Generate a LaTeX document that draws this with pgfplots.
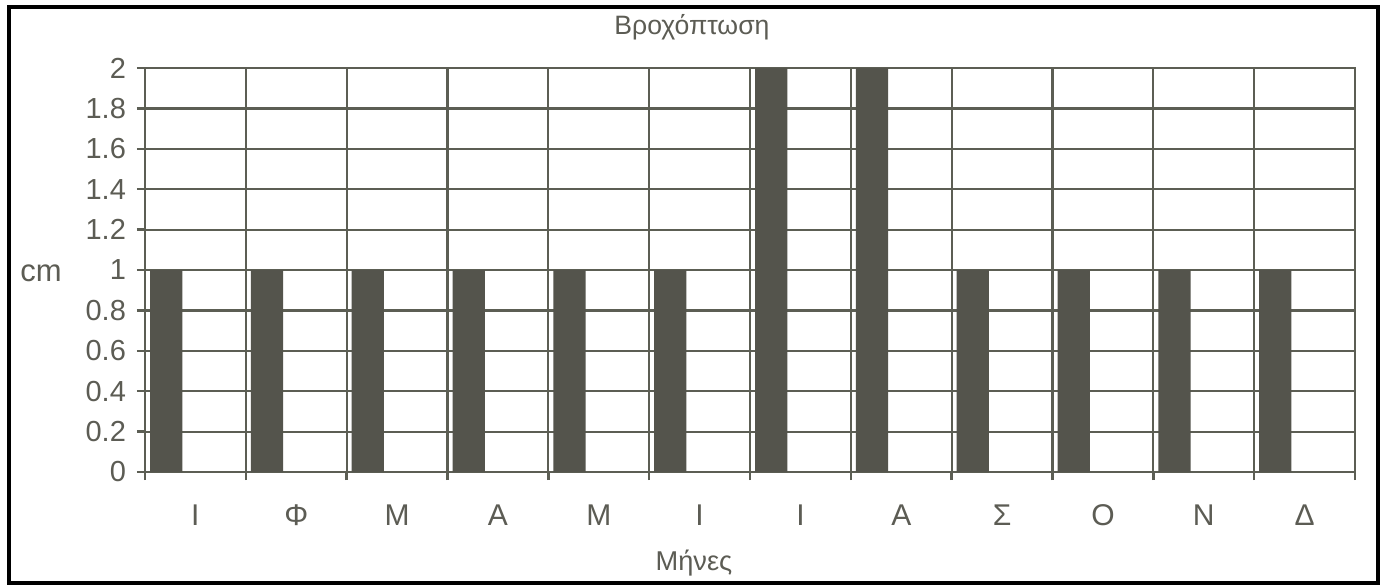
\documentclass[border=0pt]{standalone}
\usepackage{fontspec}
\setmainfont{Liberation Sans}
\usepackage{pgfplots}
\pgfplotsset{compat=1.18}

\definecolor{linegray}{rgb}{0.36,0.37,0.33}
\definecolor{bargray}{rgb}{0.33,0.33,0.30}
\definecolor{txtgray}{rgb}{0.36,0.36,0.33}

\begin{document}
\begin{tikzpicture}
% background and outer frame
\fill[white] (-72.5pt,-56.5pt) rectangle (621.5pt,236pt);
\draw[line width=1.6pt, black] (-68pt,-55.5pt) rectangle (616.5pt,232.5pt);
\begin{axis}[
    at={(0,0)}, anchor=south west,
    scale only axis,
    width=605pt, height=202pt,
    clip=false,
    xmin=0, xmax=12, ymin=0, ymax=2,
    xtick={0,...,12},
    xticklabels={Ι,Φ,Μ,Α,Μ,Ι,Ι,Α,Σ,Ο,Ν,Δ},
    x tick label as interval,
    ytick={0,0.2,...,2},
    yticklabel style={/pgf/number format/fixed,/pgf/number format/precision=1},
    /pgf/number format/assume math mode=true,
    xtick pos=bottom, ytick pos=left,
    tick align=outside,
    major tick length=4pt,
    grid=major,
    grid style={linegray, line width=1.1pt},
    axis line style={linegray, line width=1.2pt},
    tick style={linegray, line width=1.2pt},
    every tick label/.append style={txtgray},
    yticklabel style={font=\fontsize{14.5}{14.5}\selectfont, xshift=-2pt},
    xticklabel style={font=\fontsize{15}{15}\selectfont, yshift=-8pt,
                      text height=11pt, text depth=0pt},
    ybar, bar width=0.32, bar shift=0.21,
]
\addplot[fill=bargray, draw=none] coordinates {
    (0,1) (1,1) (2,1) (3,1) (4,1) (5,1)
    (6,2) (7,2) (8,1) (9,1) (10,1) (11,1)
};
\node[txtgray, font=\fontsize{13.3}{13.3}\selectfont, anchor=center]
    at (rel axis cs:0.452,1.1015) {Βροχόπτωση};
\node[txtgray, font=\fontsize{13.6}{13.6}\selectfont, anchor=center]
    at (rel axis cs:0.4537,-0.2252) {Μήνες};
\node[txtgray, font=\fontsize{15.5}{15.5}\selectfont, anchor=center]
    at (rel axis cs:-0.086,0.4926) {cm};
\end{axis}
\end{tikzpicture}
\end{document}
